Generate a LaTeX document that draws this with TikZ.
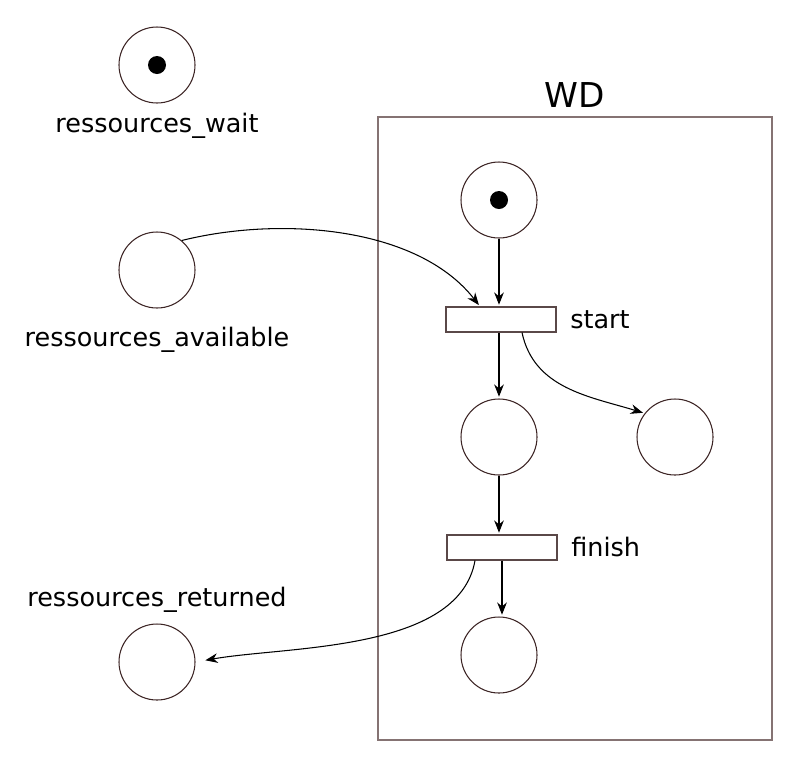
\documentclass[tikz,border=0pt]{standalone}
\usepackage{fontspec}
\setmainfont{DejaVu Sans}
\usetikzlibrary{arrows.meta}
\definecolor{placecol}{HTML}{3C2424}
\definecolor{boxcol}{HTML}{857373}
\definecolor{transcol}{HTML}{5A4848}

\begin{document}
\begin{tikzpicture}[
    place/.style={circle, draw=placecol, line width=0.6pt, minimum size=1.52cm, inner sep=0pt},
    trans/.style={rectangle, draw=transcol, line width=0.6pt, minimum width=2.2cm, minimum height=0.5cm, inner sep=0pt},
    lbl/.style={font=\fontsize{14.5}{17}\selectfont, inner sep=0pt},
    arc/.style={-{Stealth[length=7pt, width=5.5pt]}, line width=0.6pt, shorten >=1pt}
  ]
    \useasboundingbox (0, 0) rectangle (16, -15.38);
    \draw[boxcol, line width=0.8pt] (7.56, -2.34) rectangle (15.44, -14.80);
    \node[inner sep=0pt, font=\fontsize{19.5}{23}\selectfont] (wdname) at (11.5, -1.9) {WD};

    \node[place] (pwait) at (3.14, -1.30) {};
    \node[lbl] (lwait) at (3.14, -2.52) {ressources\_wait};
    \node[place] (pavail) at (3.14, -5.40) {};
    \node[lbl] (lavail) at (3.14, -6.80) {ressources\_available};
    \node[place] (pret) at (3.14, -13.24) {};
    \node[lbl] (lret) at (3.14, -12.0) {ressources\_returned};

    \node[place] (pready) at (9.98, -4.00) {};
    \node[trans] (tstart) at (10.02, -6.39) {};
    \node[lbl, anchor=west] (lstart) at (11.40, -6.40) {start};
    \node[place] (pbusy) at (9.98, -8.74) {};
    \node[place] (pres) at (13.50, -8.74) {};
    \node[trans] (tfinish) at (10.04, -10.95) {};
    \node[lbl, anchor=west] (lfinish) at (11.42, -10.94) {finish};
    \node[place] (pdone) at (9.98, -13.10) {};

    \fill (pwait.center) circle (0.18);
    \fill (pready.center) circle (0.18);

    \draw[arc] (pready) -- (pready |- tstart.north);
    \draw[arc] (pavail.50) to[out=14, in=128, looseness=0.85] ([xshift=-0.42cm]tstart.north);
    \draw[arc] (tstart.south -| pbusy) -- (pbusy);
    \draw[arc] ([xshift=0.42cm]tstart.south) to[out=-78, in=163] (pres.142);
    \draw[arc] (pbusy) -- (pbusy |- tfinish.north);
    \draw[arc] (tfinish.south) -- (tfinish.south |- pdone.north);
    \draw[arc, shorten >=0.2cm] ([xshift=-0.54cm]tfinish.south) to[out=-100, in=10, looseness=0.8] (pret.east);
  \end{tikzpicture}
\end{document}
